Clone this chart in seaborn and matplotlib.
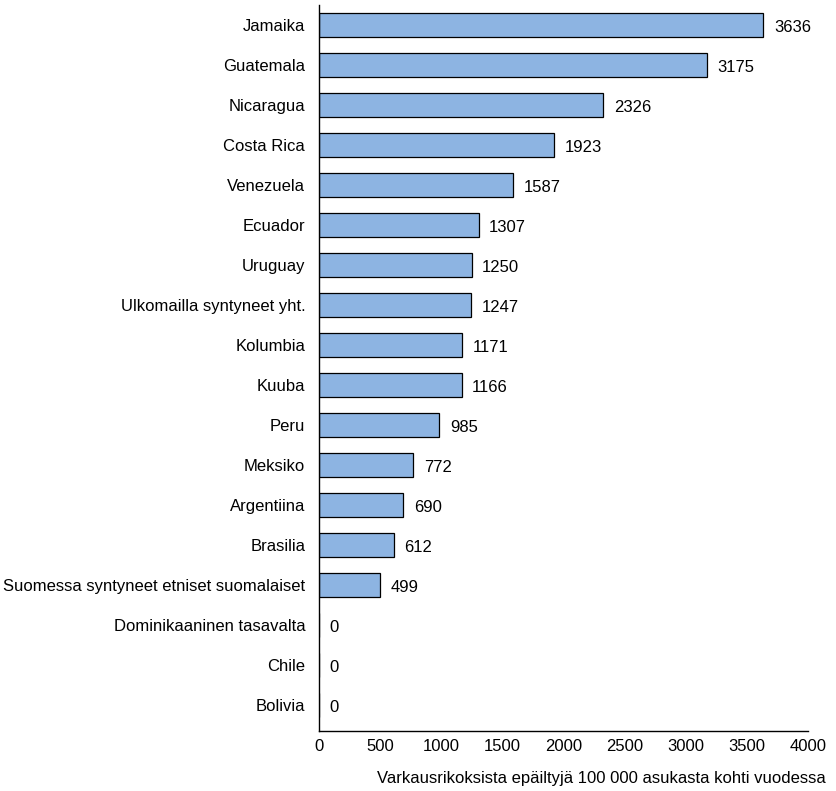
import pandas as pd
import matplotlib.pyplot as plt
import seaborn as sns

# Datos
maat = ['Jamaika', 'Guatemala', 'Nicaragua', 'Costa Rica', 'Venezuela', 'Ecuador',
        'Uruguay', 'Ulkomailla syntyneet yht.', 'Kolumbia', 'Kuuba', 'Peru', 'Meksiko',
        'Argentiina', 'Brasilia', 'Suomessa syntyneet etniset suomalaiset',
        'Dominikaaninen tasavalta', 'Chile', 'Bolivia']
arvot = [3636, 3175, 2326, 1923, 1587, 1307, 1250, 1247, 1171, 1166, 985, 772,
         690, 612, 499, 0, 0, 0]

df = pd.DataFrame({'maa': maat, 'arvo': arvot})

sns.set_style('white')
plt.rcParams['font.family'] = ['Liberation Sans', 'DejaVu Sans']
plt.rcParams['text.color'] = 'black'
plt.rcParams['xtick.color'] = 'black'
plt.rcParams['ytick.color'] = 'black'

fig = plt.figure(figsize=(8.36, 7.91), dpi=100)
ax = fig.add_axes([0.3816, 0.0759, 0.5849, 0.9178])

sns.barplot(data=df, x='arvo', y='maa', orient='h', color='#8DB4E2',
            edgecolor='black', linewidth=0.9, width=0.6, saturation=1, ax=ax)

for i, v in enumerate(arvot):
    ax.text(v + 85, i + 0.07, str(v), va='center', ha='left', fontsize=12)

ax.set_xlim(0, 4000)
ax.set_ylim(17.65, -0.5)
ax.set_xticks(range(0, 4001, 500))
ax.tick_params(axis='x', direction='in', length=7, width=1, color='black',
               labelsize=12, pad=6)
ax.tick_params(axis='y', length=0, labelsize=12, pad=10)
ax.set_xlabel('')
ax.set_ylabel('')

sns.despine(ax=ax, top=True, right=True)
for s in ['left', 'bottom']:
    ax.spines[s].set_color('black')
    ax.spines[s].set_linewidth(1)

fig.text(0.988, 0.006, 'Varkausrikoksista epäiltyjä 100 000 asukasta kohti vuodessa',
         ha='right', va='bottom', fontsize=12)

fig.savefig('out.png', dpi=100)
